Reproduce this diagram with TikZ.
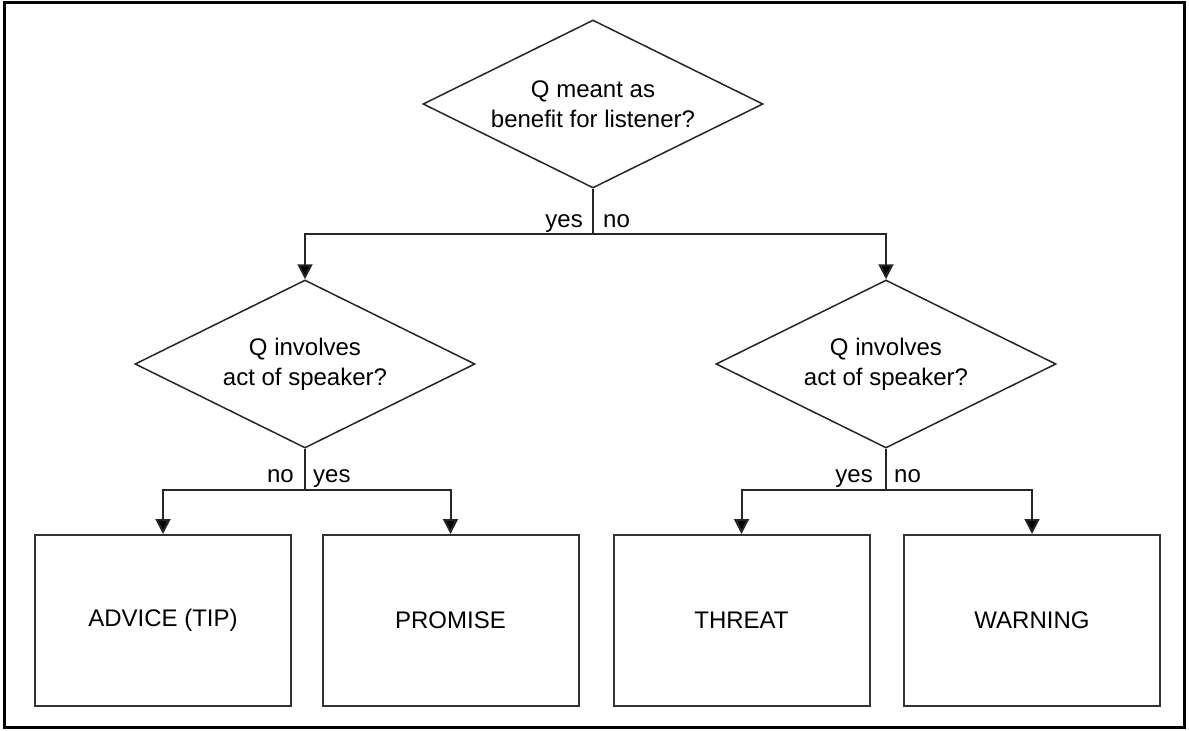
\documentclass[tikz,border=0pt]{standalone}
\usepackage{fontspec}
\setmainfont{Liberation Sans}
\usetikzlibrary{shapes.geometric,arrows.meta}
\begin{document}
\begin{tikzpicture}[x=1pt,y=-1pt,
  decision/.style={diamond, draw=black!85, line width=1.5pt, shape aspect=2, inner sep=0pt,
    minimum width=340pt, minimum height=168pt, align=center,
    font=\fontsize{24}{30}\selectfont},
  outcome/.style={rectangle, draw=black!80, line width=2pt, minimum width=256pt,
    minimum height=171pt, font=\fontsize{24}{28}\selectfont},
  link/.style={line width=2pt, draw=black!85},
  arr/.style={link, -{Triangle[width=15pt,length=15pt,fill=black]}},
  lbl/.style={font=\fontsize{24}{28}\selectfont, inner sep=0pt}
]
\useasboundingbox (0,0) rectangle (1189,731);
\draw[line width=3pt] (4.5,2.5) rectangle (1184.5,727);

\node[decision] (d1) at (593,104) {Q meant as\\benefit for listener?};
\node[decision] (d2) at (305,364) {Q involves\\act of speaker?};
\node[decision] (d3) at (886,364) {Q involves\\act of speaker?};

\node[outcome] (b1) at (163,620.5) {ADVICE (TIP)};
\node[outcome] (b2) at (450.5,620.5) {PROMISE};
\node[outcome] (b3) at (741.5,620.5) {THREAT};
\node[outcome] (b4) at (1032,620.5) {WARNING};

\coordinate (j1) at (593,234);
\coordinate (j2) at (305,490);
\coordinate (j3) at (886,490);

\draw[link] (d1.south) -- (j1);
\draw[arr] (j1) -| (d2.north);
\draw[arr] (j1) -| (d3.north);

\draw[link] (d2.south) -- (j2);
\draw[arr] (j2) -| (b1.north);
\draw[arr] (j2) -| (b2.north);

\draw[link] (d3.south) -- (j3);
\draw[arr] (j3) -| (b3.north);
\draw[arr] (j3) -| (b4.north);

\node[lbl, anchor=base east] (y1) at (583,227) {yes};
\node[lbl, anchor=base west] (n1) at (603,227) {no};
\node[lbl, anchor=base east] (n2) at (294,482) {no};
\node[lbl, anchor=base west] (y2) at (313,482) {yes};
\node[lbl, anchor=base east] (y3) at (873,482) {yes};
\node[lbl, anchor=base west] (n3) at (894,482) {no};
\end{tikzpicture}
\end{document}
